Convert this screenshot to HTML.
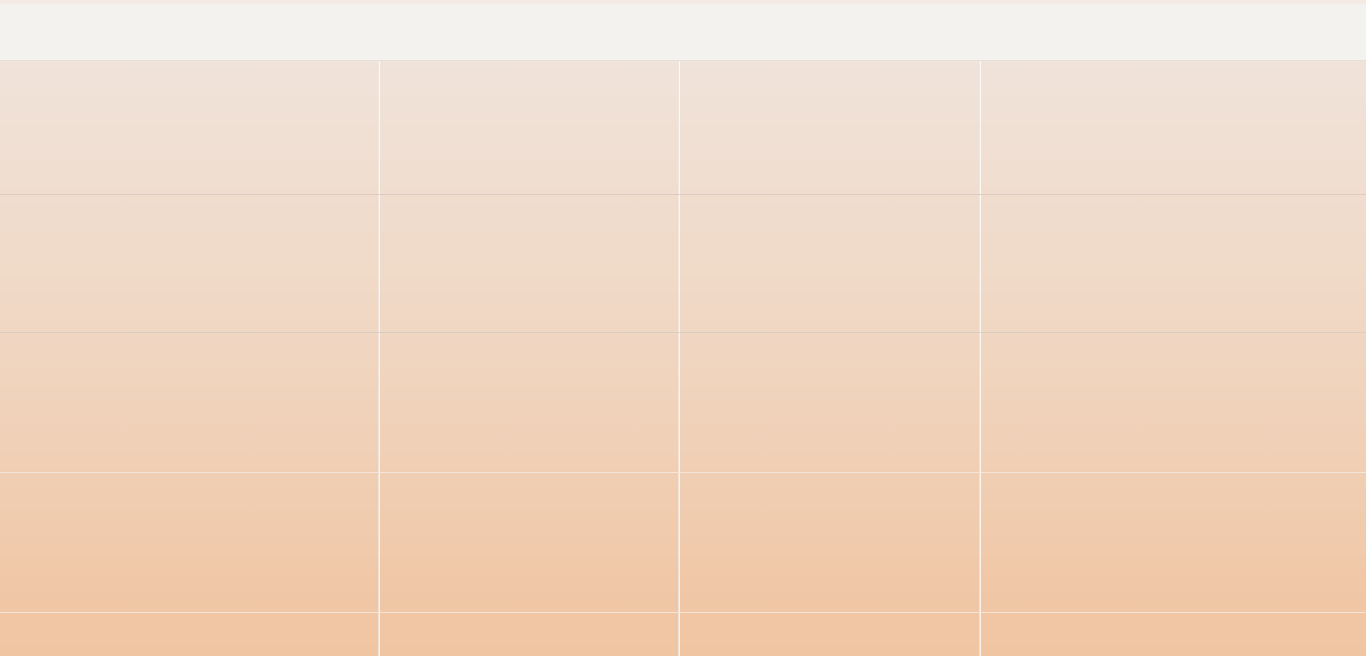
<!DOCTYPE html>
<html>
<head>
<meta charset="utf-8">
<style>
html,body{margin:0;padding:0;width:1366px;height:656px;overflow:hidden;font-family:"Liberation Sans",sans-serif;}
#top-strip{position:absolute;left:0;top:0;width:1366px;height:4px;background:#f4e9e3;}
#header-band{position:absolute;left:0;top:4px;width:1366px;height:56px;background:#f4f2ee;border-bottom:1px solid #e4dfda;}
#grid-area{position:absolute;left:0;top:61px;width:1366px;height:595px;background:linear-gradient(to bottom,#f0e3da 0%,#f0d7c3 45%,#f0c7a6 90%,#f0c5a2 100%);}
.vline{position:absolute;top:0;bottom:0;width:1px;background:rgba(255,255,255,0.75);border-left:1px solid rgba(200,180,165,0.25);}
.hline{position:absolute;left:0;right:0;height:1px;background:rgba(215,200,190,0.8);}
</style>
</head>
<body>
<div id="top-strip"></div>
<div id="header-band"></div>
<div id="grid-area">
  <div class="vline" style="left:378px"></div>
  <div class="vline" style="left:678px"></div>
  <div class="vline" style="left:979px"></div>
  <div class="hline" style="top:133px"></div>
  <div class="hline" style="top:271px"></div>
  <div class="hline" style="top:411px;background:rgba(245,230,220,0.9)"></div>
  <div class="hline" style="top:551px;background:rgba(245,230,220,0.9)"></div>
</div>
</body>
</html>
